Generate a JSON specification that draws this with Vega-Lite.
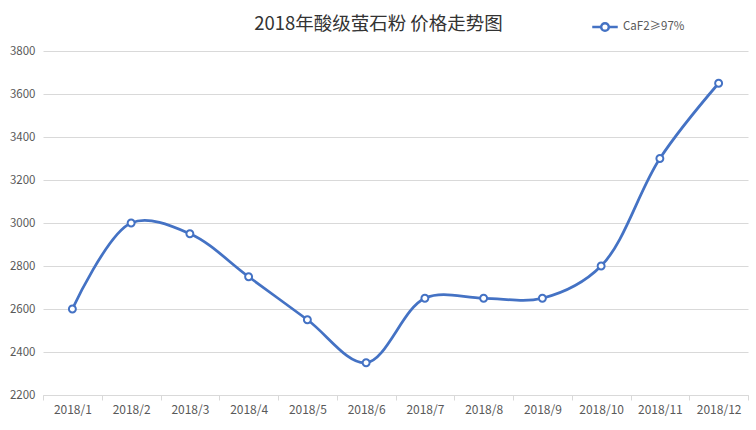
{
  "$schema": "https://vega.github.io/schema/vega-lite/v6.json",
  "width": 705,
  "height": 344,
  "autosize": {"type": "none"},
  "padding": {"left": 43, "top": 51, "right": 8, "bottom": 35},
  "background": "white",
  "title": {
    "text": "2018年酸级萤石粉 价格走势图",
    "font": "Noto Sans CJK SC",
    "fontSize": 18.5,
    "fontWeight": "normal",
    "color": "#333333",
    "anchor": "middle",
    "dx": -17,
    "offset": -20
  },
  "config": {
    "view": {"stroke": null},
    "font": "Noto Sans CJK SC"
  },
  "data": {
    "values": [
      {"month": "2018/1", "price": 2600, "series": "CaF2≥97%"},
      {"month": "2018/2", "price": 3000, "series": "CaF2≥97%"},
      {"month": "2018/3", "price": 2950, "series": "CaF2≥97%"},
      {"month": "2018/4", "price": 2750, "series": "CaF2≥97%"},
      {"month": "2018/5", "price": 2550, "series": "CaF2≥97%"},
      {"month": "2018/6", "price": 2350, "series": "CaF2≥97%"},
      {"month": "2018/7", "price": 2650, "series": "CaF2≥97%"},
      {"month": "2018/8", "price": 2650, "series": "CaF2≥97%"},
      {"month": "2018/9", "price": 2650, "series": "CaF2≥97%"},
      {"month": "2018/10", "price": 2800, "series": "CaF2≥97%"},
      {"month": "2018/11", "price": 3300, "series": "CaF2≥97%"},
      {"month": "2018/12", "price": 3650, "series": "CaF2≥97%"}
    ]
  },
  "encoding": {
    "x": {
      "field": "month",
      "type": "ordinal",
      "sort": null,
      "scale": {"type": "band", "paddingInner": 0, "paddingOuter": 0},
      "axis": {
        "title": null,
        "labelAngle": 0,
        "labelFontSize": 12,
        "labelColor": "#595959",
        "labelPadding": 4,
        "domainColor": "#d9d9d9",
        "tickColor": "#d9d9d9",
        "tickBand": "extent",
        "tickSize": 5,
        "grid": false
      }
    },
    "y": {
      "field": "price",
      "type": "quantitative",
      "scale": {"domain": [2200, 3800], "nice": false, "zero": false},
      "axis": {
        "title": null,
        "format": "d",
        "values": [2200, 2400, 2600, 2800, 3000, 3200, 3400, 3600, 3800],
        "labelFontSize": 11.5,
        "labelColor": "#595959",
        "labelPadding": 8,
        "domain": false,
        "ticks": false,
        "gridColor": "#d9d9d9",
        "gridWidth": 1
      }
    }
  },
  "layer": [
    {
      "mark": {"type": "line", "interpolate": "catmull-rom", "strokeWidth": 2.75},
      "encoding": {
        "color": {
          "field": "series",
          "type": "nominal",
          "scale": {"range": ["#4472C4"]},
          "legend": {
            "title": null,
            "orient": "none",
            "legendX": 548,
            "legendY": -38,
            "symbolType": "M-1,0L-0.3,0M0.3,0L1,0M-0.3,0A0.3,0.3 0 1,0 0.3,0A0.3,0.3 0 1,0 -0.3,0Z",
            "symbolSize": 650,
            "symbolStrokeWidth": 2.5,
            "symbolFillColor": "white",
            "labelFontSize": 11.5,
            "labelColor": "#595959",
            "labelOffset": 4
          }
        }
      }
    },
    {
      "mark": {"type": "point", "filled": true, "fill": "white", "size": 48, "strokeWidth": 2, "opacity": 1, "stroke": "#4472C4"}
    }
  ]
}
